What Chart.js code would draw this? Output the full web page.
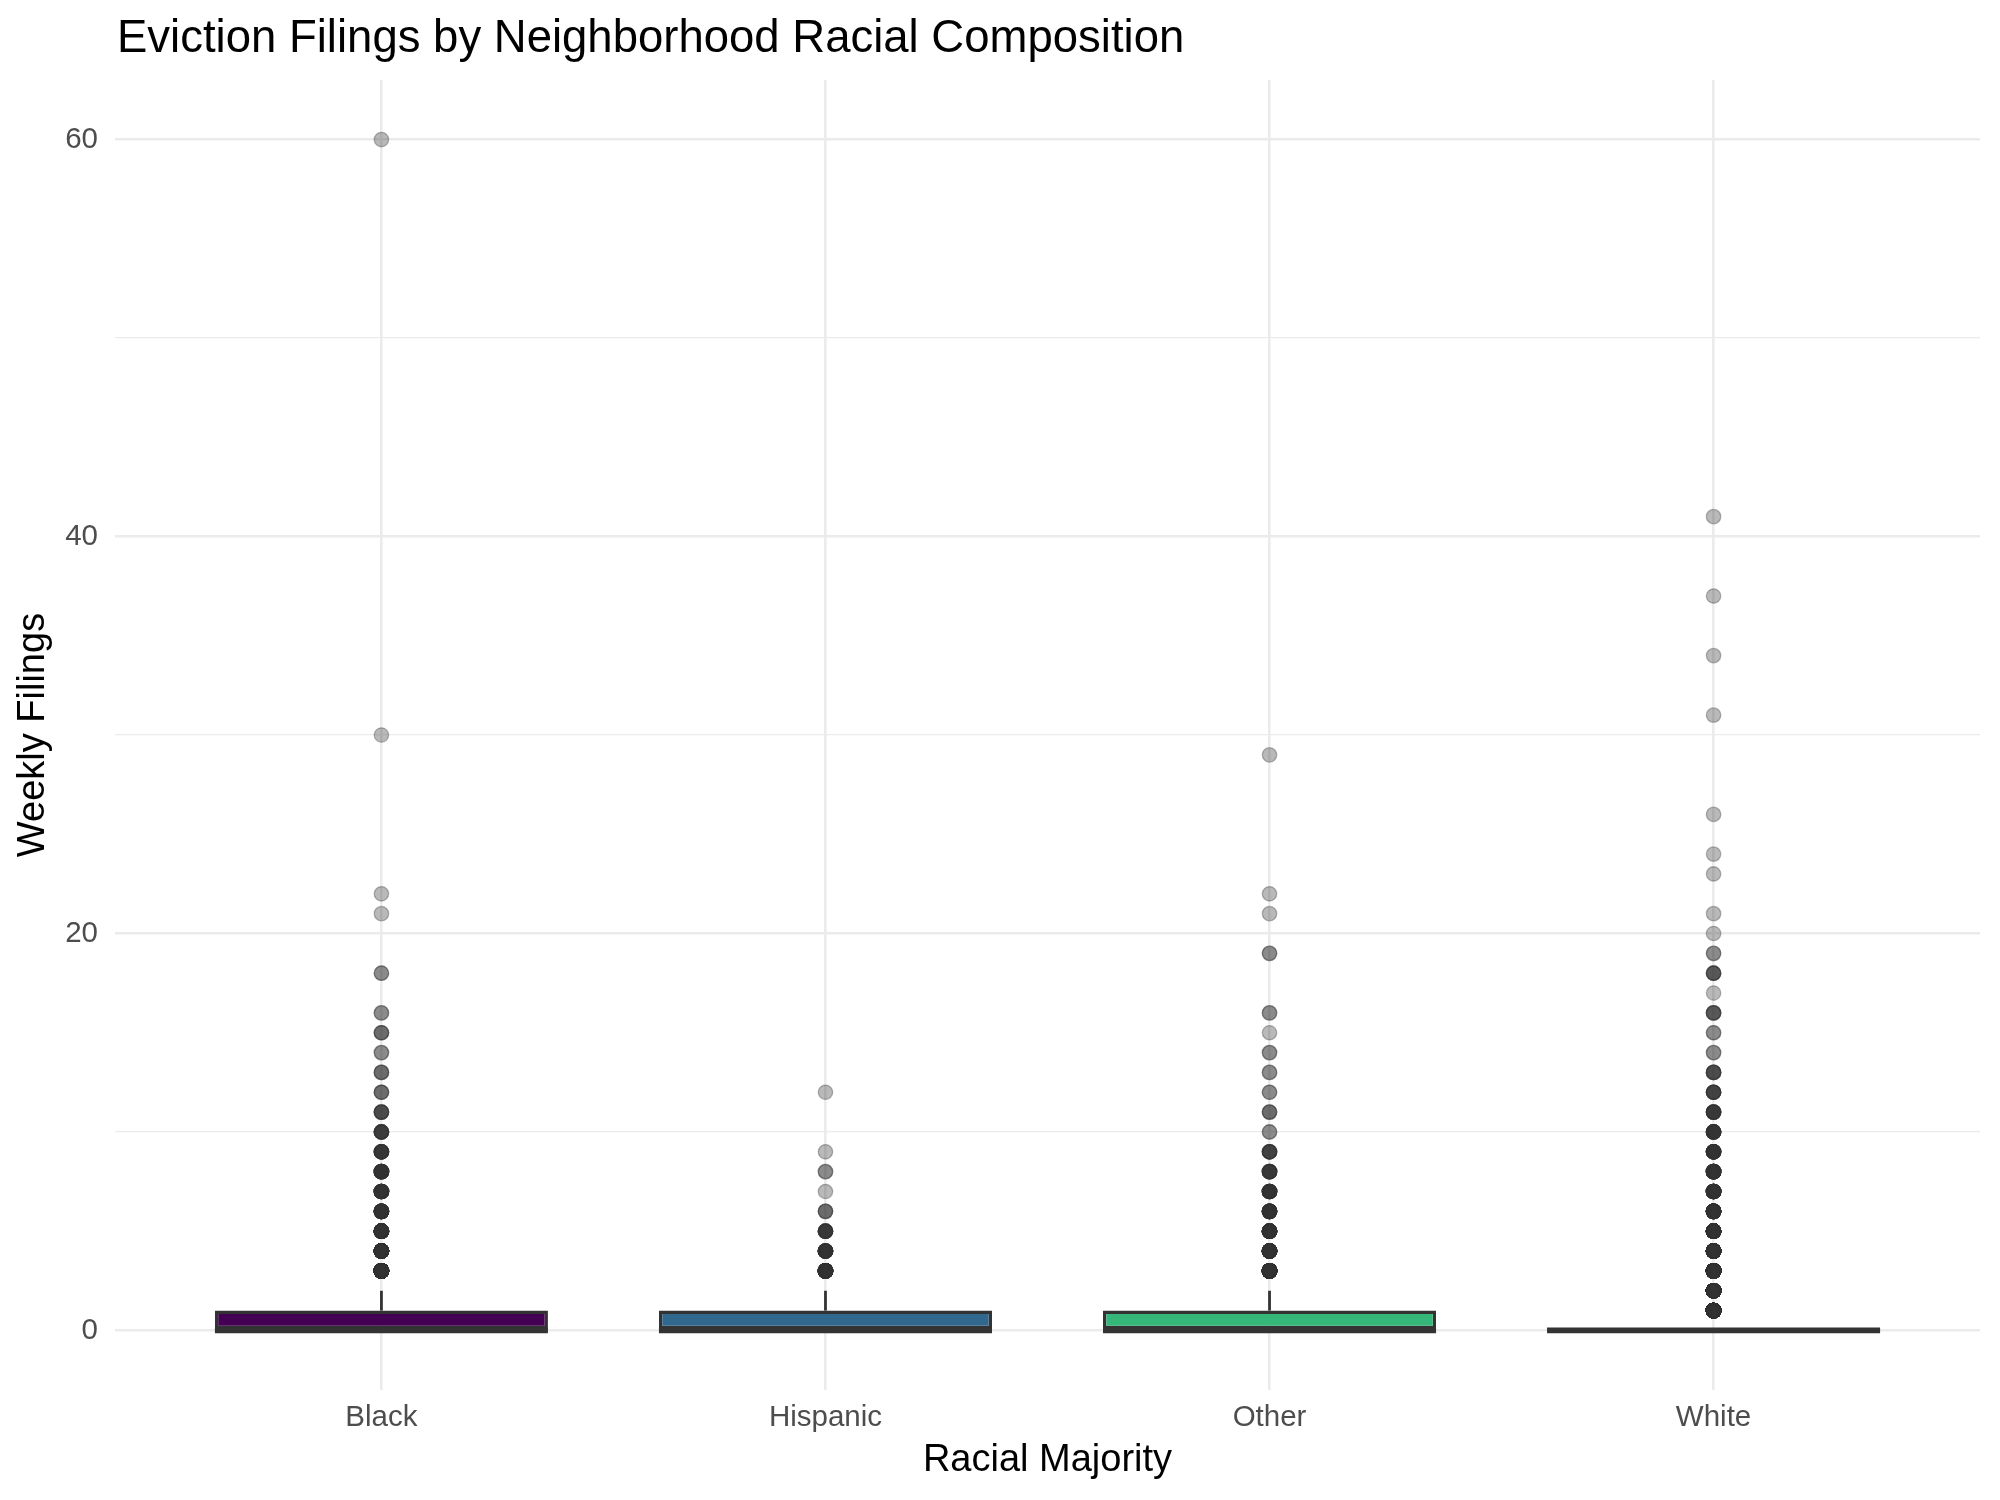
<!DOCTYPE html>
<html>
<head>
<meta charset="utf-8">
<script src="https://cdn.jsdelivr.net/npm/chart.js@4.4.1/dist/chart.umd.min.js"></script>
<style>html,body{margin:0;padding:0;background:#fff;}canvas{display:block;}</style>
</head>
<body>
<canvas id="c" width="2000" height="1500"></canvas>
<script>
// ---- data ----
const categories = ['Black', 'Hispanic', 'Other', 'White'];
const boxColors = ['#440154', '#31688E', '#35B779', '#FDE725'];
const boxQ1 = [0, 0, 0, 0];
const boxMedian = [0, 0, 0, 0];
const boxQ3 = [1, 1, 1, 0];
const whiskerLow = [0, 0, 0, 0];
const whiskerHigh = [2, 2, 2, 0];

const blackValues = [60, 30, 22, 21, 18, 16, 15, 14, 13, 12, 11, 10, 9, 8, 7, 6, 5, 4, 3];
const blackCounts = [1, 1, 1, 1, 2, 2, 3, 2, 3, 3, 5, 7, 9, 12, 15, 20, 30, 45, 70];
const hispanicValues = [12, 9, 8, 7, 6, 5, 4, 3];
const hispanicCounts = [1, 1, 2, 1, 3, 8, 15, 30];
const otherValues = [29, 22, 21, 19, 16, 15, 14, 13, 12, 11, 10, 9, 8, 7, 6, 5, 4, 3];
const otherCounts = [1, 1, 1, 2, 2, 1, 2, 2, 2, 3, 2, 6, 8, 12, 16, 22, 35, 55];
const whiteValues = [41, 37, 34, 31, 26, 24, 23, 21, 20, 19, 18, 17, 16, 15, 14, 13, 12, 11, 10, 9, 8, 7, 6, 5, 4, 3, 2, 1];
const whiteCounts = [1, 1, 1, 1, 1, 1, 1, 1, 1, 2, 4, 1, 4, 2, 2, 5, 6, 8, 10, 13, 17, 22, 30, 40, 60, 90, 150, 300];

const yMajorTicks = [0, 20, 40, 60];

// ---- build datasets ----
const outlierGroups = [
  [blackValues, blackCounts],
  [hispanicValues, hispanicCounts],
  [otherValues, otherCounts],
  [whiteValues, whiteCounts]
];
const outlierPoints = [];
outlierGroups.forEach(([vals, cnts], i) => {
  vals.forEach((v, j) => {
    for (let k = 0; k < cnts[j]; k++) outlierPoints.push({ x: i + 1, y: v });
  });
});
const boxData = categories.map((c, i) => ({ x: i + 1, y: [boxQ1[i], boxQ3[i]] }));

const FONT = '"Liberation Sans", Arial, Helvetica, sans-serif';

const boxExtras = {
  id: 'boxExtras',
  afterDatasetDraw(chart, args) {
    if (args.index !== 0) return;
    const { ctx, scales: { x, y } } = chart;
    const meta = chart.getDatasetMeta(0);
    ctx.save();
    ctx.strokeStyle = '#333333';
    ctx.lineCap = 'butt';
    meta.data.forEach((bar, i) => {
      const cx = x.getPixelForValue(i + 1);
      const half = bar.width / 2;
      ctx.lineWidth = 2.8;
      ctx.beginPath();
      if (whiskerHigh[i] > boxQ3[i]) {
        ctx.moveTo(cx, y.getPixelForValue(boxQ3[i]));
        ctx.lineTo(cx, y.getPixelForValue(whiskerHigh[i]));
      }
      if (whiskerLow[i] < boxQ1[i]) {
        ctx.moveTo(cx, y.getPixelForValue(boxQ1[i]));
        ctx.lineTo(cx, y.getPixelForValue(whiskerLow[i]));
      }
      ctx.stroke();
      const ym = y.getPixelForValue(boxMedian[i]);
      ctx.lineWidth = 5.8;
      ctx.beginPath();
      ctx.moveTo(cx - half, ym);
      ctx.lineTo(cx + half, ym);
      ctx.stroke();
    });
    ctx.restore();
  }
};

const plotTitle = {
  id: 'plotTitle',
  afterDraw(chart) {
    const ctx = chart.ctx;
    ctx.save();
    ctx.fillStyle = '#000000';
    ctx.font = '45.5px ' + FONT;
    ctx.textAlign = 'left';
    ctx.textBaseline = 'alphabetic';
    ctx.fillText('Eviction Filings by Neighborhood Racial Composition', chart.chartArea.left + 2, 52);
    ctx.restore();
  }
};

new Chart(document.getElementById('c'), {
  type: 'bar',
  data: {
    datasets: [
      {
        type: 'bar',
        data: boxData,
        backgroundColor: boxColors,
        borderColor: '#333333',
        borderWidth: 3.3,
        borderSkipped: false,
        barPercentage: 0.75,
        categoryPercentage: 1.0,
        order: 1
      },
      {
        type: 'scatter',
        data: outlierPoints,
        showLine: false,
        pointRadius: 7.2,
        pointBorderWidth: 1.3,
        pointBackgroundColor: 'rgba(51,51,51,0.34)',
        pointBorderColor: 'rgba(51,51,51,0.34)',
        order: 0
      }
    ]
  },
  options: {
    responsive: false,
    animation: false,
    layout: { padding: { top: 80, right: 20, bottom: 0, left: 0 } },
    plugins: { legend: { display: false }, tooltip: { enabled: false }, title: { display: false } },
    scales: {
      x: {
        type: 'linear',
        min: 0.4,
        max: 4.6,
        offset: false,
        afterFit(s) { s.height = 110; },
        border: { display: false },
        grid: { offset: false, color: '#EBEBEB', lineWidth: 2.6, drawTicks: false },
        ticks: {
          stepSize: 1, includeBounds: false, padding: 10, autoSkip: false, maxRotation: 0,
          color: '#4D4D4D', font: { family: FONT, size: 29.5 },
          callback: v => categories[v - 1] ?? ''
        },
        title: { display: true, text: 'Racial Majority', color: '#000000', font: { family: FONT, size: 38 }, padding: { top: 0, bottom: 17 } }
      },
      y: {
        type: 'linear',
        min: -3,
        max: 63,
        afterFit(s) { s.width = 115; },
        border: { display: false },
        grid: {
          color: '#EBEBEB',
          lineWidth: c => (c.tick && yMajorTicks.includes(c.tick.value)) ? 2.6 : 1.3,
          drawTicks: false
        },
        ticks: {
          stepSize: 10, includeBounds: false, padding: 17,
          color: '#4D4D4D', font: { family: FONT, size: 29.5 },
          callback: v => yMajorTicks.includes(v) ? String(v) : ''
        },
        title: { display: true, text: 'Weekly Filings', color: '#000000', font: { family: FONT, size: 38 }, padding: { top: 11, bottom: 0 } }
      }
    }
  },
  plugins: [boxExtras, plotTitle]
});
</script>
</body>
</html>
